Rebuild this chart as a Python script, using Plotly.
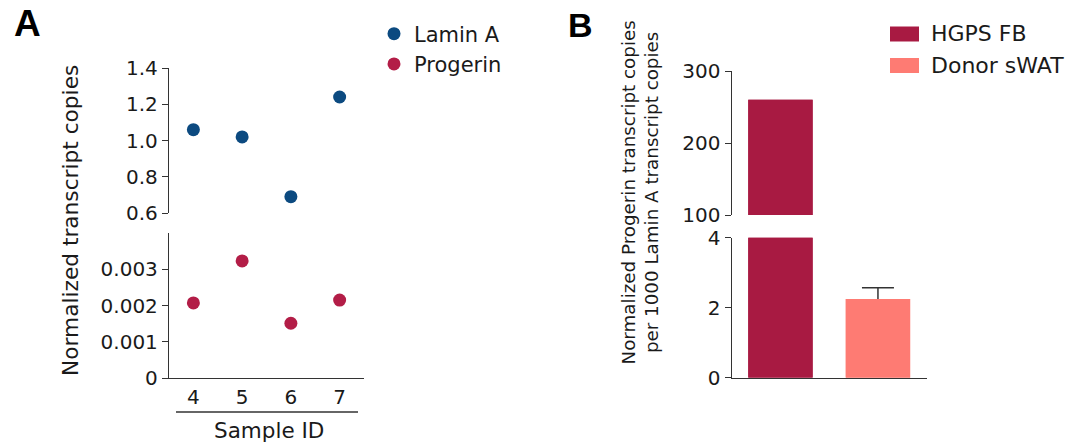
import plotly.graph_objects as go

# ---------------- data ----------------
sample_ids = [4, 5, 6, 7]
lamin_a = [1.06, 1.02, 0.69, 1.24]
progerin = [0.00207, 0.00323, 0.00151, 0.00215]

groups = ["HGPS FB", "Donor sWAT"]
group_pos = [0, 1]
ratio_mean = [260, 2.25]
ratio_err = [None, 0.32]

upper_a_ticks = [0.6, 0.8, 1.0, 1.2, 1.4]
lower_a_ticks = [0, 0.001, 0.002, 0.003]
lower_a_labels = ["0", "0.001", "0.002", "0.003"]
upper_b_ticks = [100, 200, 300]
lower_b_ticks = [0, 2, 4]

# ---------------- style ----------------
BLUE = "#0c4a80"
RED = "#b31d47"
HGPS = "#a81a42"
DONOR = "#fe7b73"
AX = "#333333"
TXT = "#1a1a1a"
FONT = "DejaVu Sans, Verdana, sans-serif"
BOLD = "Liberation Sans, Arial, Helvetica, sans-serif"
W, H = 1075, 443

def px_x(x):
    return x / W

def px_y(y):
    return 1 - y / H

fig = go.Figure()

# Panel A: Lamin A (upper) and Progerin (lower)
fig.add_trace(go.Scatter(x=sample_ids, y=lamin_a, mode="markers", name="Lamin A",
                         marker=dict(color=BLUE, size=13), xaxis="x2", yaxis="y2"))
fig.add_trace(go.Scatter(x=sample_ids, y=progerin, mode="markers", name="Progerin",
                         marker=dict(color=RED, size=13), xaxis="x", yaxis="y"))

# Panel B: bars in both broken-axis halves
colors = [HGPS, DONOR]
for xa, ya in (("x3", "y3"), ("x4", "y4")):
    # first pass: bars carrying the (upward-only) error bars
    for i, g in enumerate(groups):
        err = ratio_err[i]
        kw = {}
        if err is not None:
            kw["error_y"] = dict(type="data", symmetric=False, array=[err],
                                 arrayminus=[err * 0.25], color=AX, thickness=1.5, width=16)
        fig.add_trace(go.Bar(x=[group_pos[i]], y=[ratio_mean[i]], name=g, width=0.66,
                             marker=dict(color=colors[i], line=dict(width=0)),
                             xaxis=xa, yaxis=ya, showlegend=False, **kw))
    # second pass: same bars drawn on top so the lower half of the error bar is hidden
    for i, g in enumerate(groups):
        fig.add_trace(go.Bar(x=[group_pos[i]], y=[ratio_mean[i]], name=g, width=0.66,
                             marker=dict(color=colors[i], line=dict(width=0)),
                             xaxis=xa, yaxis=ya, showlegend=False, hoverinfo="skip"))

axis_common = dict(showgrid=False, zeroline=False, showline=True, linecolor=AX,
                   linewidth=1.3, tickfont=dict(size=20, color=TXT, family=FONT),
                   ticks="outside", ticklen=6, tickwidth=1.3, tickcolor=AX,
                   automargin=False)

xa_dom = [px_x(169), px_x(364)]
xb_dom = [px_x(731.7), px_x(926.7)]

fig.update_layout(
    width=W, height=H,
    margin=dict(l=0, r=0, t=0, b=0, pad=0, autoexpand=False),
    paper_bgcolor="white", plot_bgcolor="white",
    font=dict(family=FONT, size=20, color=TXT),
    barmode="overlay",
    xaxis=dict(**{**axis_common, "ticks": ""}, domain=xa_dom, range=[3.5, 7.5], anchor="y",
               tickvals=sample_ids, ticklabelstandoff=1),
    yaxis=dict(**axis_common, domain=[px_y(378), px_y(233)], range=[0, 0.004], anchor="x",
               tickvals=lower_a_ticks, ticktext=lower_a_labels),
    xaxis2=dict(domain=xa_dom, range=[3.5, 7.5], anchor="y2", visible=False, automargin=False),
    yaxis2=dict(**axis_common, domain=[px_y(213), px_y(68)], range=[0.6, 1.4], anchor="x2",
                tickvals=upper_a_ticks, tickformat=".1f"),
    xaxis3=dict(**{**axis_common, "ticks": ""}, domain=xb_dom, range=[-0.5, 1.5], anchor="y3",
                showticklabels=False),
    yaxis3=dict(**axis_common, domain=[px_y(377.7), px_y(237.7)], range=[0, 4], anchor="x3",
                tickvals=lower_b_ticks),
    xaxis4=dict(domain=xb_dom, range=[-0.5, 1.5], anchor="y4", visible=False, automargin=False),
    yaxis4=dict(**axis_common, domain=[px_y(215), px_y(71)], range=[100, 300], anchor="x4",
                tickvals=upper_b_ticks),
    legend=dict(x=px_x(374), y=px_y(13.5), xanchor="left", yanchor="top",
                font=dict(size=21, color=TXT, family=FONT), bgcolor="rgba(0,0,0,0)"),
    showlegend=True,
)

annotations = [
    dict(text="<b>A</b>", x=px_x(12), y=px_y(24), xanchor="left", yanchor="middle",
         font=dict(size=37, color="black", family=BOLD)),
    dict(text="<b>B</b>", x=px_x(566), y=px_y(25), xanchor="left", yanchor="middle",
         font=dict(size=34, color="black", family=BOLD)),
    dict(text="Normalized transcript copies", x=px_x(70), y=px_y(221), textangle=-90,
         xanchor="center", yanchor="middle", font=dict(size=21.7, color=TXT)),
    dict(text="Sample ID", x=px_x(269), y=px_y(430), xanchor="center", yanchor="middle",
         font=dict(size=21.5, color=TXT)),
    dict(text="Normalized Progerin transcript copies<br>per 1000 Lamin A transcript copies",
         x=px_x(640), y=px_y(192.5), textangle=-90, xanchor="center", yanchor="middle",
         font=dict(size=18.3, color=TXT)),
]
# custom legend for panel B
legend_b_y = [34, 65.5]
shapes = [dict(type="line", xref="paper", yref="paper", x0=px_x(176), x1=px_x(358),
               y0=px_y(412), y1=px_y(412), line=dict(color=AX, width=1.3))]
for i, g in enumerate(groups):
    yc = legend_b_y[i]
    shapes.append(dict(type="rect", xref="paper", yref="paper", x0=px_x(890), x1=px_x(919),
                       y0=px_y(yc - 7.5), y1=px_y(yc + 7.5), fillcolor=colors[i],
                       line=dict(width=0)))
    annotations.append(dict(text=g, x=px_x(929), y=px_y(yc), xanchor="left", yanchor="middle",
                            font=dict(size=22, color=TXT)))

for a in annotations:
    a.update(xref="paper", yref="paper", showarrow=False)
fig.update_layout(annotations=annotations, shapes=shapes)

fig.write_html("out.html", config={"displayModeBar": False},
               post_script="document.body.style.margin='0px';document.body.style.overflow='hidden';")
